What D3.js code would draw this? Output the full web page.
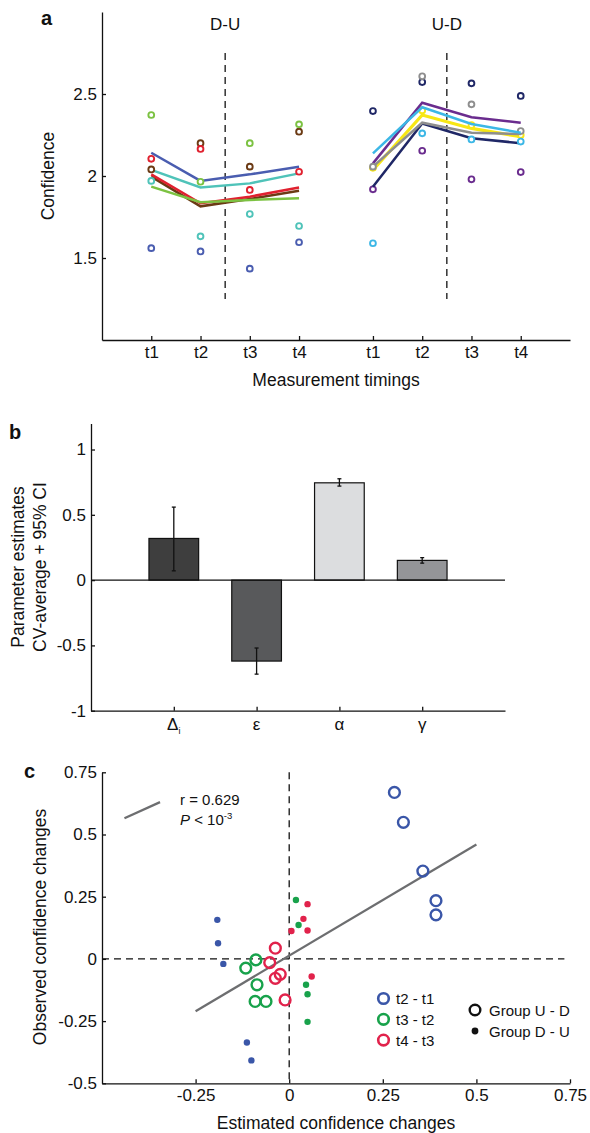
<!DOCTYPE html>
<html lang="en">
<head>
<meta charset="utf-8">
<title>Confidence figure</title>
<script src="https://cdn.jsdelivr.net/npm/d3@7"></script>
<style>
  body { margin: 0; background: #fff; }
  svg text { font-family: "Liberation Sans", Arial, sans-serif; fill: #111; }
  .axis path, .axis line { stroke: #111; stroke-width: 1.3; }
  .axis text { font-size: 17px; }
</style>
</head>
<body>
<script>
// ---- panel a data ----
var timings = ["t1", "t2", "t3", "t4"];
var duColors = ["#6b3a14", "#e0212f", "#7cc242", "#4fc3b9", "#4a5db0"];   // brown, red, green, teal, blue
var duModel = [
  [1.996, 1.815, 1.86, 1.91],
  [2.01, 1.834, 1.874, 1.93],
  [1.935, 1.84, 1.854, 1.864],
  [2.037, 1.93, 1.955, 2.016],
  [2.142, 1.97, 2.01, 2.057]
];
var duObserved = [
  [2.04, 2.20, 2.057, 2.27],
  [2.105, 2.165, 1.915, 2.026],
  [2.372, 1.965, 2.20, 2.315],
  [1.97, 1.632, 1.768, 1.695],
  [1.56, 1.54, 1.435, 1.596]
];
var udColors = ["#f7e715", "#6a2c8e", "#1f2766", "#8e8e8e", "#3cb7e6"];   // yellow, purple, navy, gray, cyan
var udModel = [
  [2.037, 2.372, 2.29, 2.24],
  [2.077, 2.447, 2.358, 2.325],
  [1.935, 2.32, 2.23, 2.20],
  [2.057, 2.325, 2.264, 2.256],
  [2.138, 2.419, 2.317, 2.264]
];
var udObserved = [
  [2.05, 2.40, 2.31, 2.25],
  [1.919, 2.154, 1.98, 2.024],
  [2.396, 2.573, 2.565, 2.488],
  [2.057, 2.608, 2.437, 2.274],
  [1.59, 2.26, 2.223, 2.21]
];

// ---- panel b data ----
var params = ["Δ", "ε", "α", "γ"];
var paramValues = [0.319, -0.62, 0.745, 0.151];
var ciLow = [0.071, -0.72, 0.72, 0.13];
var ciHigh = [0.559, -0.52, 0.776, 0.172];
var paramColors = ["#3e3e3e", "#58595b", "#dcdddf", "#949598"];

// ---- panel c data ----
var diffNames = ["t2 - t1", "t3 - t2", "t4 - t3"];
var diffColors = ["#3a56a8", "#18a24b", "#e1224b"];
// group U-D (open circles): [estimated, observed]
var udChanges = [
  [[0.281, 0.669], [0.305, 0.549], [0.357, 0.353], [0.392, 0.234], [0.392, 0.177]],
  [[-0.089, -0.004], [-0.116, -0.037], [-0.086, -0.104], [-0.091, -0.171], [-0.062, -0.171]],
  [[-0.037, 0.043], [-0.052, -0.015], [-0.024, -0.062], [-0.037, -0.078], [-0.011, -0.165]]
];
// group D-U (filled dots)
var duChanges = [
  [[-0.192, 0.157], [-0.19, 0.063], [-0.176, -0.02], [-0.113, -0.336], [-0.101, -0.408]],
  [[0.018, 0.237], [0.025, 0.136], [0.045, -0.104], [0.049, -0.142], [0.049, -0.253]],
  [[0.049, 0.22], [0.038, 0.161], [0.049, 0.114], [0.006, 0.112], [0.06, -0.071]]
];
var fitLine = [[-0.25, -0.21], [0.5, 0.46]];
var fitKey = [[-0.44, 0.565], [-0.345, 0.63]];

var svg = d3.select("body").append("svg")
  .attr("width", 590).attr("height", 1133);

var plain = function(d) { return String(d); };

function panelLetter(t, x, y) {
  svg.append("text").attr("x", x).attr("y", y)
    .attr("font-size", "20px").attr("font-weight", "bold").text(t);
}

// ================= panel a =================
var xA = d3.scaleLinear().domain([0, 9.5]).range([102, 570]);
var yA = d3.scaleLinear().domain([1, 3]).range([340, 12]);
var posDU = [1, 2, 3, 4];
var posUD = [5.5, 6.5, 7.5, 8.5];

svg.append("g").attr("class", "axis")
  .attr("transform", "translate(0,340)")
  .call(d3.axisBottom(xA).tickValues(posDU.concat(posUD))
    .tickFormat(function(d, i) { return timings[i % 4]; })
    .tickSizeInner(-4).tickSizeOuter(0).tickPadding(6));
svg.append("g").attr("class", "axis")
  .attr("transform", "translate(102,0)")
  .call(d3.axisLeft(yA).tickValues([1.5, 2, 2.5]).tickFormat(plain)
    .tickSizeInner(-4).tickSizeOuter(0).tickPadding(5));

[2.5, 7].forEach(function(v) {
  svg.append("line")
    .attr("x1", xA(v)).attr("x2", xA(v))
    .attr("y1", yA(2.75)).attr("y2", yA(1.25))
    .attr("stroke", "#111").attr("stroke-width", 1.3)
    .attr("stroke-dasharray", "7,5");
});
svg.append("text").attr("x", xA(2.5)).attr("y", 30)
  .attr("text-anchor", "middle").attr("font-size", "17px").text("D-U");
svg.append("text").attr("x", xA(7)).attr("y", 30)
  .attr("text-anchor", "middle").attr("font-size", "17px").text("U-D");

function drawGroup(model, observed, colors, pos, circlesOnTop) {
  var line = d3.line()
    .x(function(d, i) { return xA(pos[i]); })
    .y(function(d) { return yA(d); });
  model.forEach(function(row, k) {
    svg.append("path").attr("d", line(row))
      .attr("fill", "none").attr("stroke", colors[k])
      .attr("stroke-width", k === 0 && !circlesOnTop ? 3.2 : 2.5);
    if (!circlesOnTop) drawRings(observed[k], colors[k], pos);
  });
  if (circlesOnTop) {
    observed.forEach(function(row, k) { drawRings(row, colors[k], pos); });
  }
}
function drawRings(row, color, pos) {
  svg.append("g").selectAll("circle")
    .data(row).enter().append("circle")
    .attr("cx", function(d, i) { return xA(pos[i]); })
    .attr("cy", function(d) { return yA(d); })
    .attr("r", 2.9)
    .attr("fill", "#fff")
    .attr("stroke", color).attr("stroke-width", 1.9);
}
drawGroup(duModel, duObserved, duColors, posDU, true);
drawGroup(udModel, udObserved, udColors, posUD, false);

svg.append("text").attr("transform", "translate(54,176) rotate(-90)")
  .attr("text-anchor", "middle").attr("font-size", "17.5px").text("Confidence");
svg.append("text").attr("x", 336).attr("y", 386)
  .attr("text-anchor", "middle").attr("font-size", "17.5px").text("Measurement timings");
panelLetter("a", 41, 25);

// ================= panel b =================
var xB = d3.scaleLinear().domain([0, 5]).range([91, 505]);
var yB = d3.scaleLinear().domain([-1, 1.2]).range([710.7, 423.4]);
var barW = xB(0.6) - xB(0);

svg.append("g").attr("class", "axis")
  .attr("transform", "translate(0," + yB(-1) + ")")
  .call(d3.axisBottom(xB).tickValues([1, 2, 3, 4]).tickFormat("")
    .tickSizeInner(-4).tickSizeOuter(0));
svg.append("g").attr("class", "axis")
  .attr("transform", "translate(91,0)")
  .call(d3.axisLeft(yB).tickValues([-1, -0.5, 0, 0.5, 1]).tickFormat(plain)
    .tickSizeInner(-4).tickSizeOuter(0).tickPadding(5));

svg.append("g").selectAll("rect")
  .data(paramValues).enter().append("rect")
  .attr("x", function(d, i) { return xB(i + 1) - barW / 2; })
  .attr("y", function(d) { return yB(Math.max(0, d)); })
  .attr("width", barW)
  .attr("height", function(d) { return Math.abs(yB(d) - yB(0)); })
  .attr("fill", function(d, i) { return paramColors[i]; })
  .attr("stroke", "#111").attr("stroke-width", 1.2);

svg.append("line").attr("x1", 91).attr("x2", 505)
  .attr("y1", yB(0)).attr("y2", yB(0))
  .attr("stroke", "#111").attr("stroke-width", 1.3);

var err = svg.append("g").attr("stroke", "#111").attr("stroke-width", 1.3);
paramValues.forEach(function(v, i) {
  var cx = xB(i + 1);
  err.append("line").attr("x1", cx).attr("x2", cx)
    .attr("y1", yB(ciLow[i])).attr("y2", yB(ciHigh[i]));
  [ciLow[i], ciHigh[i]].forEach(function(c) {
    err.append("line").attr("x1", cx - 2).attr("x2", cx + 2)
      .attr("y1", yB(c)).attr("y2", yB(c));
  });
});

var paramLabels = svg.append("g");
params.forEach(function(p, i) {
  var t = paramLabels.append("text").attr("x", xB(i + 1)).attr("y", 730)
    .attr("text-anchor", "middle").attr("font-size", "17px");
  t.append("tspan").text(p);
  if (i === 0) t.append("tspan").attr("font-size", "9px").attr("dy", 4).text("i");
});

svg.append("text").attr("transform", "translate(24,567) rotate(-90)")
  .attr("text-anchor", "middle").attr("font-size", "17.5px").text("Parameter estimates");
svg.append("text").attr("transform", "translate(46,567) rotate(-90)")
  .attr("text-anchor", "middle").attr("font-size", "17.5px").text("CV-average + 95% CI");
panelLetter("b", 9, 439);

// ================= panel c =================
var xC = d3.scaleLinear().domain([-0.5, 0.75]).range([102, 570]);
var yC = d3.scaleLinear().domain([-0.5, 0.75]).range([1083.3, 772.3]);

svg.append("g").attr("class", "axis")
  .attr("transform", "translate(0," + yC(-0.5) + ")")
  .call(d3.axisBottom(xC).tickValues([-0.25, 0, 0.25, 0.5, 0.75]).tickFormat(plain)
    .tickSizeInner(-4).tickSizeOuter(0).tickPadding(6));
svg.append("g").attr("class", "axis")
  .attr("transform", "translate(102,0)")
  .call(d3.axisLeft(yC).tickValues([-0.5, -0.25, 0, 0.25, 0.5, 0.75]).tickFormat(plain)
    .tickSizeInner(-4).tickSizeOuter(0).tickPadding(5));

svg.append("line").attr("x1", xC(0)).attr("x2", xC(0))
  .attr("y1", yC(0.75)).attr("y2", yC(-0.5))
  .attr("stroke", "#111").attr("stroke-width", 1.3).attr("stroke-dasharray", "7,5");
svg.append("line").attr("x1", xC(-0.5)).attr("x2", xC(0.735))
  .attr("y1", yC(0)).attr("y2", yC(0))
  .attr("stroke", "#111").attr("stroke-width", 1.3).attr("stroke-dasharray", "7,5");

var lineC = d3.line().x(function(d) { return xC(d[0]); }).y(function(d) { return yC(d[1]); });
svg.append("path").attr("d", lineC(fitLine))
  .attr("fill", "none").attr("stroke", "#6d6e70").attr("stroke-width", 2.3);
svg.append("path").attr("d", lineC(fitKey))
  .attr("fill", "none").attr("stroke", "#6d6e70").attr("stroke-width", 2.3);

svg.append("text").attr("x", 180).attr("y", 805).attr("font-size", "15px").text("r = 0.629");
var pTxt = svg.append("text").attr("x", 180).attr("y", 825).attr("font-size", "15px");
pTxt.append("tspan").attr("font-style", "italic").text("P");
pTxt.append("tspan").text(" < 10");
pTxt.append("tspan").attr("font-size", "9.5px").attr("dy", -6).text("-3");

duChanges.forEach(function(pts, k) {
  svg.append("g").selectAll("circle")
    .data(pts).enter().append("circle")
    .attr("cx", function(d) { return xC(d[0]); })
    .attr("cy", function(d) { return yC(d[1]); })
    .attr("r", 3.2).attr("fill", diffColors[k]);
});
udChanges.forEach(function(pts, k) {
  svg.append("g").selectAll("circle")
    .data(pts).enter().append("circle")
    .attr("cx", function(d) { return xC(d[0]); })
    .attr("cy", function(d) { return yC(d[1]); })
    .attr("r", 5.4).attr("fill", "none")
    .attr("stroke", diffColors[k]).attr("stroke-width", 2.4);
});

// legends
diffNames.forEach(function(n, k) {
  var y = 998.5 + k * 20.8;
  svg.append("circle").attr("cx", 383.5).attr("cy", y).attr("r", 5.3)
    .attr("fill", "none").attr("stroke", diffColors[k]).attr("stroke-width", 2.6);
  svg.append("text").attr("x", 396).attr("y", y + 5.5).attr("font-size", "15px").text(n);
});
svg.append("circle").attr("cx", 475).attr("cy", 1010).attr("r", 5.3)
  .attr("fill", "none").attr("stroke", "#111").attr("stroke-width", 2.4);
svg.append("text").attr("x", 489).attr("y", 1015.5).attr("font-size", "15px").text("Group U - D");
svg.append("circle").attr("cx", 475).attr("cy", 1031).attr("r", 3.4).attr("fill", "#111");
svg.append("text").attr("x", 489).attr("y", 1036.5).attr("font-size", "15px").text("Group D - U");

svg.append("text").attr("transform", "translate(46,927) rotate(-90)")
  .attr("text-anchor", "middle").attr("font-size", "17.5px").text("Observed confidence changes");
svg.append("text").attr("x", 336).attr("y", 1129)
  .attr("text-anchor", "middle").attr("font-size", "17.5px").text("Estimated confidence changes");
panelLetter("c", 24, 778);
</script>
</body>
</html>
